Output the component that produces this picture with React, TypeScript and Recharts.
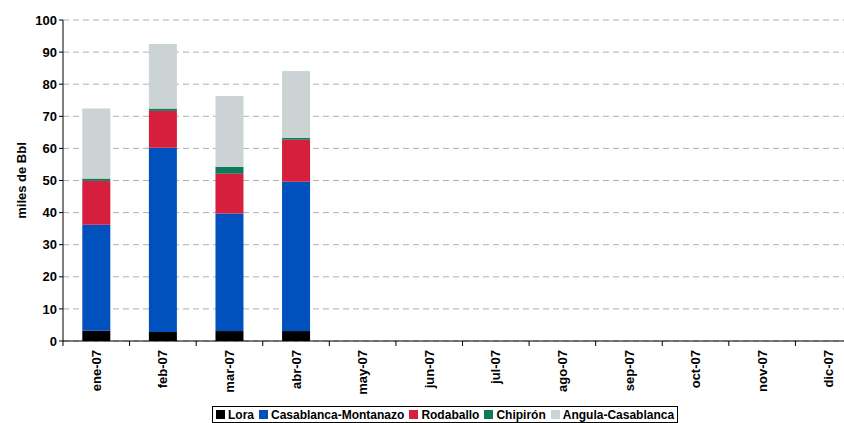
import { BarChart, Bar, XAxis, YAxis, CartesianGrid } from "recharts";

const months = [
  "ene-07", "feb-07", "mar-07", "abr-07", "may-07", "jun-07",
  "jul-07", "ago-07", "sep-07", "oct-07", "nov-07", "dic-07"
];
const lora = [3.2, 2.8, 3.1, 3.1, 0, 0, 0, 0, 0, 0, 0, 0];
const casablanca = [33, 57.4, 36.6, 46.5, 0, 0, 0, 0, 0, 0, 0, 0];
const rodaballo = [13.7, 11.5, 12.4, 13.1, 0, 0, 0, 0, 0, 0, 0, 0];
const chipiron = [0.7, 0.7, 2.2, 0.6, 0, 0, 0, 0, 0, 0, 0, 0];
const angula = [21.8, 20.1, 22.0, 20.8, 0, 0, 0, 0, 0, 0, 0, 0];
const yTicks = [0, 10, 20, 30, 40, 50, 60, 70, 80, 90, 100];

const series = [
  { key: "lora", name: "Lora", color: "#000000" },
  { key: "casablanca", name: "Casablanca-Montanazo", color: "#0050BE" },
  { key: "rodaballo", name: "Rodaballo", color: "#D51F3C" },
  { key: "chipiron", name: "Chipirón", color: "#0E7A5A" },
  { key: "angula", name: "Angula-Casablanca", color: "#CBD3D5" }
];

const data = months.map((m, i) => ({
  month: m,
  lora: lora[i],
  casablanca: casablanca[i],
  rodaballo: rodaballo[i],
  chipiron: chipiron[i],
  angula: angula[i]
}));

const font = "'Liberation Sans', Arial, sans-serif";

function MonthTick(props: any) {
  const { x, y, payload } = props;
  const half = payload?.offset ?? 33.25;
  return (
    <g>
      <line x1={x - half} y1={y - 8} x2={x - half} y2={y - 3} stroke="#000" />
      <text
        x={x}
        y={y + 1}
        transform={`rotate(-90, ${x}, ${y + 1})`}
        textAnchor="end"
        dy="0.35em"
        fontSize={13}
        fontWeight="bold"
        fontFamily={font}
        fill="#000"
      >
        {payload.value}
      </text>
    </g>
  );
}

export default function App() {
  return (
    <div
      style={{
        position: "absolute",
        left: 0,
        top: 0,
        width: 844,
        height: 423,
        overflow: "hidden",
        background: "#fff"
      }}
    >
      <BarChart
        width={870}
        height={423}
        data={data}
        margin={{ top: 20, right: 8, left: 0, bottom: 22 }}
        barCategoryGap="29%"
      >
        <CartesianGrid
          horizontal
          vertical={false}
          stroke="#B0B0B0"
          strokeDasharray="6 4"
        />
        <XAxis
          dataKey="month"
          height={60}
          interval={0}
          axisLine={{ stroke: "#000" }}
          tickLine={false}
          tick={<MonthTick />}
        />
        <YAxis
          width={63}
          domain={[0, 100]}
          ticks={yTicks}
          interval={0}
          axisLine={{ stroke: "#000" }}
          tickLine={{ stroke: "#000" }}
          tickSize={4}
          tick={{ fontSize: 13, fontWeight: "bold", fill: "#000", fontFamily: font }}
          label={{
            value: "miles de Bbl",
            angle: -90,
            position: "insideLeft",
            offset: 21,
            style: { fontSize: 13, fontWeight: "bold", fill: "#000", fontFamily: font, textAnchor: "middle" }
          }}
        />
        {series.map((s) => (
          <Bar
            key={s.key}
            dataKey={s.key}
            name={s.name}
            stackId="a"
            fill={s.color}
            isAnimationActive={false}
          />
        ))}
      </BarChart>
      <div
        style={{
          position: "absolute",
          left: 212,
          top: 406,
          height: 17,
          boxSizing: "border-box",
          border: "1px solid #000",
          display: "flex",
          alignItems: "center",
          padding: "0 3px",
          gap: 5,
          fontFamily: font,
          fontSize: 12,
          fontWeight: "bold",
          whiteSpace: "nowrap"
        }}
      >
        {series.map((s) => (
          <div key={s.key} style={{ display: "flex", alignItems: "center", gap: 3 }}>
            <span style={{ width: 9, height: 9, background: s.color, display: "inline-block" }} />
            <span>{s.name}</span>
          </div>
        ))}
      </div>
    </div>
  );
}
